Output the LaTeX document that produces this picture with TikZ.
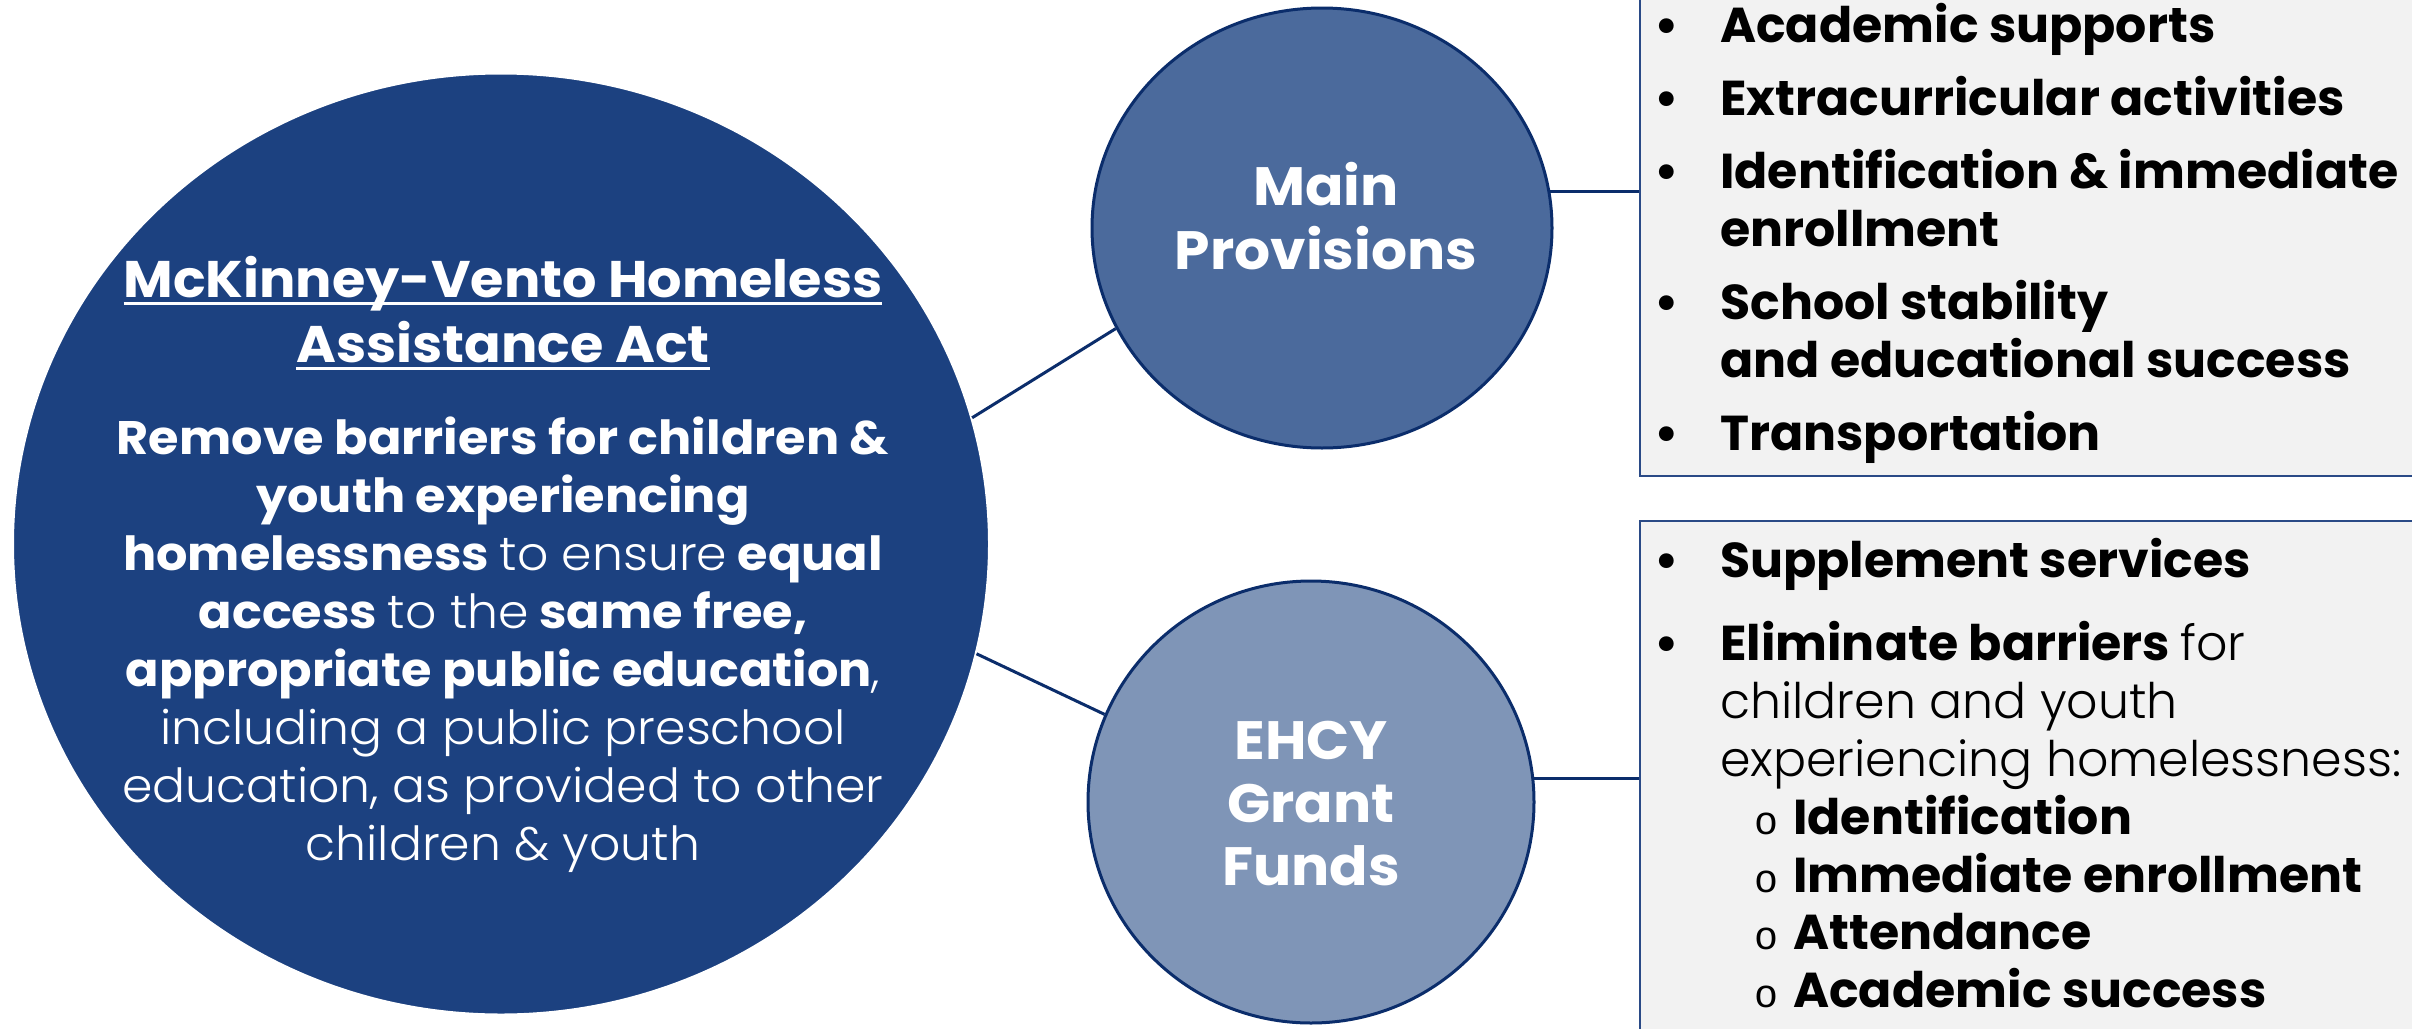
\documentclass[tikz,border=0pt]{standalone}
\usepackage{fontspec}
\setmainfont{Poppins}
\newfontfamily\lightfont{Poppins Light}
\newfontfamily\wfont{Poppins}[FakeStretch=1.05]
\newfontfamily\wlightfont{Poppins Light}[FakeStretch=1.04]
\newfontfamily\monofont{Liberation Mono}
\usetikzlibrary{shapes.geometric}
\definecolor{bigfill}{HTML}{1C4180}
\definecolor{mainfill}{HTML}{4B6A9C}
\definecolor{ehcyfill}{HTML}{7F95B7}
\definecolor{navy}{HTML}{0B2D6B}
\definecolor{boxfill}{HTML}{F2F2F2}
\definecolor{boxline}{HTML}{2A4A86}
\newcommand{\lt}[1]{{\lightfont\mdseries #1}}
\newcommand{\wl}[1]{{\wlightfont\mdseries #1}}
\newcommand{\myul}[1]{\setbox0\hbox{#1}\rlap{\rule[-7.5pt]{\wd0}{3pt}}\box0}
\begin{document}
\begin{tikzpicture}[x=1pt,y=-1pt,
  bigc/.style={ellipse, fill=bigfill, draw=white, line width=2pt, inner sep=0, minimum width=976pt, minimum height=941pt},
  smallc/.style={ellipse, draw=navy, line width=3pt, inner sep=0},
  boxs/.style={rectangle, fill=boxfill, draw=boxline, line width=2pt, inner sep=0},
  link/.style={draw=navy, line width=3pt},
  wt/.style={anchor=base, inner sep=0, text=white},
  bt/.style={anchor=base west, inner sep=0, text=black, font=\fontsize{49}{58}\selectfont\bfseries},
  bul/.style={anchor=base, inner sep=0, text=black, font=\fontsize{49}{58}\selectfont\bfseries},
  sbul/.style={anchor=base, inner sep=0, text=black, font=\fontsize{40}{42}\selectfont\monofont},
  ttl/.style={font=\fontsize{51.5}{62}\selectfont\wfont\bfseries},
  bdy/.style={font=\fontsize{47}{58}\selectfont\wfont\bfseries},
  circt/.style={font=\fontsize{54}{65}\selectfont\wfont\bfseries}
]
\useasboundingbox (0,0) rectangle (2412,1028);
\fill[white] (0,0) rectangle (2412,1028);
% boxes
\node[boxs, minimum width=790pt, minimum height=496pt] (topbox) at (2035,228) {};
\node[boxs, minimum width=790pt, minimum height=527pt] (botbox) at (2035,784.5) {};
% circles
\node[bigc] (big) at (501,544) {};
\node[smallc, fill=mainfill, minimum width=460pt, minimum height=440pt] (main) at (1322,228) {};
\node[smallc, fill=ehcyfill, minimum width=446pt, minimum height=442pt] (ehcy) at (1311,802) {};
% connectors
\draw[link] (big.15.9) -- (main.206.7);
\draw[link] (big.-13.25) -- (ehcy.157.3);
\draw[link] (main.9.7) -- (main.9.7 -| topbox.west);
\draw[link] (ehcy.6.5) -- (ehcy.6.5 -| botbox.west);
% big circle text
\node[wt, ttl] (t1) at (503,297) {\myul{McKinney-Vento Homeless}};
\node[wt, ttl] (t2) at (503,362) {\myul{Assistance Act}};
\node[wt, bdy] (b1) at (503,454) {Remove barriers for children \&};
\node[wt, bdy] (b2) at (503,512) {youth experiencing};
\node[wt, bdy] (b3) at (503,570) {homelessness \wl{to ensure} equal};
\node[wt, bdy] (b4) at (503,628) {access \wl{to the} same free,};
\node[wt, bdy] (b5) at (503,686) {appropriate public education\wl{,}};
\node[wt, bdy] (b6) at (503,744) {\wl{including a public preschool}};
\node[wt, bdy] (b7) at (503,802) {\wl{education, as provided to other}};
\node[wt, bdy] (b8) at (503,860) {\wl{children \& youth}};
% small circle text
\node[wt, circt] (m1) at (1326,205) {Main};
\node[wt, circt] (m2) at (1326,269) {Provisions};
\node[wt, circt] (e1) at (1311,759) {EHCY};
\node[wt, circt] (e2) at (1311,822) {Grant};
\node[wt, circt] (e3) at (1311,885) {Funds};
% top box list
\node[bul] (p1) at (1667,42) {•};
\node[bt] (q1) at (1720,42) {Academic supports};
\node[bul] (p2) at (1667,115) {•};
\node[bt] (q2) at (1720,115) {Extracurricular activities};
\node[bul] (p3) at (1667,188) {•};
\node[bt] (q3) at (1720,188) {Identification \& immediate};
\node[bt] (q3b) at (1720,246) {enrollment};
\node[bul] (p4) at (1667,319) {•};
\node[bt] (q4) at (1720,319) {School stability};
\node[bt] (q4b) at (1720,377) {and educational success};
\node[bul] (p5) at (1667,450) {•};
\node[bt] (q5) at (1720,450) {Transportation};
% bottom box list
\node[bul] (r1) at (1667,577) {•};
\node[bt] (s1) at (1720,577) {Supplement services};
\node[bul] (r2) at (1667,660) {•};
\node[bt] (s2) at (1720,660) {Eliminate barriers \lt{for}};
\node[bt] (s2b) at (1720,718) {\lt{children and youth}};
\node[bt] (s2c) at (1720,776) {\lt{experiencing homelessness:}};
\node[sbul] (u1) at (1766,834) {o};
\node[bt] (v1) at (1793,834) {Identification};
\node[sbul] (u2) at (1766,892) {o};
\node[bt] (v2) at (1793,892) {Immediate enrollment};
\node[sbul] (u3) at (1766,949) {o};
\node[bt] (v3) at (1793,949) {Attendance};
\node[sbul] (u4) at (1766,1007) {o};
\node[bt] (v4) at (1793,1007) {Academic success};
\end{tikzpicture}
\end{document}
